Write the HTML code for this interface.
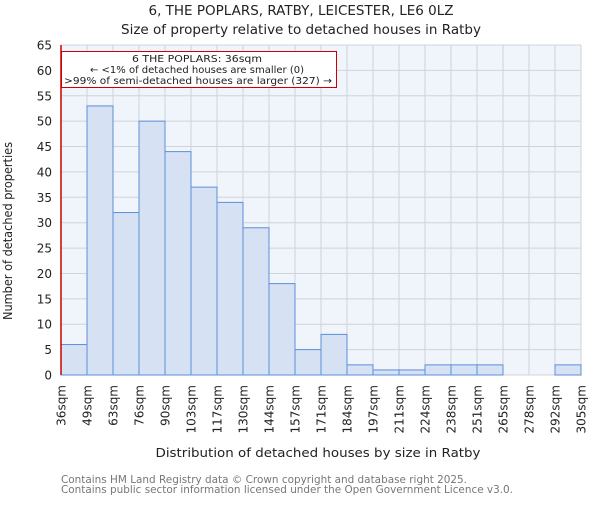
<!DOCTYPE html>
<html><head><meta charset="utf-8"><style>
body{margin:0;background:#fff;}
svg text{font-family:"DejaVu Sans","Liberation Sans",sans-serif;}
</style></head><body>
<svg id="chart" width="600" height="500" xmlns="http://www.w3.org/2000/svg">
<text x="301" y="15" text-anchor="middle" font-size="13" textLength="305" lengthAdjust="spacingAndGlyphs" fill="#222">6, THE POPLARS, RATBY, LEICESTER, LE6 0LZ</text>
<text x="301" y="34" text-anchor="middle" font-size="13" textLength="360" lengthAdjust="spacingAndGlyphs" fill="#222">Size of property relative to detached houses in Ratby</text>
<rect x="61" y="45" width="520" height="330" fill="#f0f4fb"/>
<g id="grid"></g><g id="bars"></g><g id="axes"></g>
<line x1="61" y1="45" x2="61" y2="375" stroke="#cc0000" stroke-width="1.5"/>
<rect x="61.5" y="51.5" width="275" height="36" fill="#fff" stroke="#cc0000" stroke-width="1"/>
<text x="197" y="62" text-anchor="middle" font-size="10" textLength="130" lengthAdjust="spacingAndGlyphs" fill="#222">6 THE POPLARS: 36sqm</text>
<text x="197" y="73" text-anchor="middle" font-size="10" textLength="214" lengthAdjust="spacingAndGlyphs" fill="#222">← &lt;1% of detached houses are smaller (0)</text>
<text x="198" y="84" text-anchor="middle" font-size="10" textLength="268" lengthAdjust="spacingAndGlyphs" fill="#222">&gt;99% of semi-detached houses are larger (327) →</text>
<text transform="translate(12,231) rotate(-90)" text-anchor="middle" font-size="12.5" textLength="178" lengthAdjust="spacingAndGlyphs" fill="#222">Number of detached properties</text>
<text x="318" y="457" text-anchor="middle" font-size="12.5" textLength="325" lengthAdjust="spacingAndGlyphs" fill="#222">Distribution of detached houses by size in Ratby</text>
<text x="61" y="483" font-size="10.5" textLength="406" lengthAdjust="spacingAndGlyphs" fill="#777">Contains HM Land Registry data © Crown copyright and database right 2025.</text>
<text x="61" y="493" font-size="10.5" textLength="452" lengthAdjust="spacingAndGlyphs" fill="#777">Contains public sector information licensed under the Open Government Licence v3.0.</text>
</svg>
<script>
const binLabels=["36sqm","49sqm","63sqm","76sqm","90sqm","103sqm","117sqm","130sqm","144sqm","157sqm","171sqm","184sqm","197sqm","211sqm","224sqm","238sqm","251sqm","265sqm","278sqm","292sqm","305sqm"];
const counts=[6,53,32,50,44,37,34,29,18,5,8,2,1,1,2,2,2,0,0,2];
const yTicks=[0,5,10,15,20,25,30,35,40,45,50,55,60,65];
const NS="http://www.w3.org/2000/svg";
const L=61,R=581,T=45,B=375,yMax=65;
const bw=(R-L)/counts.length;
const xs=i=>L+i*bw;
const ys=v=>B-v/yMax*(B-T);
function mk(tag,attrs,parent){const e=document.createElementNS(NS,tag);for(const k in attrs)e.setAttribute(k,attrs[k]);parent.appendChild(e);return e;}
const grid=document.getElementById('grid'),bars=document.getElementById('bars'),axes=document.getElementById('axes');
yTicks.forEach(t=>{
 const l=mk('line',{x1:L,x2:R,y1:ys(t),y2:ys(t),stroke:'#cfd3da','stroke-width':1},grid);
 
 
 const tx=mk('text',{x:L-9,y:ys(t)+4.5,'text-anchor':'end','font-size':12,fill:'#222'},axes);
 tx.textContent=t;
 
 
});
binLabels.forEach((lab,i)=>{
 const x=xs(i);
 const l=mk('line',{x1:x,x2:x,y1:T,y2:B,stroke:'#cfd3da','stroke-width':1},grid);
 
 
 const tx=mk('text',{transform:`translate(${x+4.5},${B+10}) rotate(-90)`,'text-anchor':'end','font-size':12,fill:'#222'},axes);
 tx.textContent=lab;
 
 
});
counts.forEach((v,i)=>{
 if(v<=0)return;
 const r=mk('rect',{x:xs(i),y:ys(v),width:bw,height:B-ys(v),fill:'#d6e1f3',stroke:'#5b8fd9','stroke-width':1},bars);
 
 
});
</script>
</body></html>
